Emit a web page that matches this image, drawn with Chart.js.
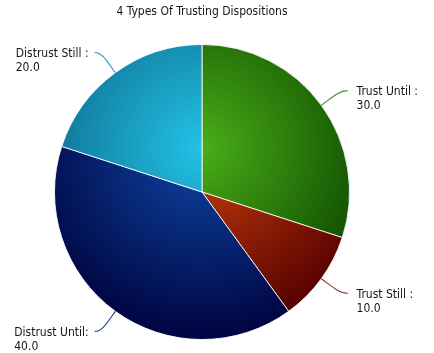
<!DOCTYPE html>
<html>
<head>
<meta charset="utf-8">
<script src="https://cdn.jsdelivr.net/npm/chart.js@4.4.1/dist/chart.umd.min.js"></script>
<style>
  html, body { margin: 0; padding: 0; background: #fff; }
  canvas { display: block; }
</style>
</head>
<body>
<canvas id="pie" width="434" height="353"></canvas>
<script>
const categories = ['Trust Until', 'Trust Still', 'Distrust Until', 'Distrust Still'];
const values = [30, 10, 40, 20];
const labelText = ['Trust Until :', 'Trust Still :', 'Distrust Until:', 'Distrust Still :'];
const lightColors = ['#4aae18', '#c8400c', '#0e46a4', '#22c2e6'];
const darkColors = ['#0c4800', '#560000', '#000644', '#0c6688'];
const lineColors = ['#4a8a2a', '#8a3a2a', '#1e3c7c', '#2a92b4'];

// condensed face if it is there, plain DejaVu a size smaller otherwise
const probe = document.createElement('canvas').getContext('2d');
probe.font = '12px "DejaVu Sans Condensed", monospace';
const wCond = probe.measureText('Trust Until :').width;
probe.font = '12px monospace';
const wMono = probe.measureText('Trust Until :').width;
const hasCond = Math.abs(wCond - wMono) > 0.5;
const fontFamily = hasCond ? '"DejaVu Sans Condensed"' : '"DejaVu Sans"';
const fontSize = hasCond ? 12 : 11;

function sliceFill(c) {
  const area = c.chart.chartArea;
  const i = c.dataIndex;
  if (!area || i === undefined) return lightColors[i || 0];
  const cx = (area.left + area.right) / 2;
  const cy = (area.top + area.bottom) / 2;
  const r = Math.min(area.right - area.left, area.bottom - area.top) / 2;
  const g = c.chart.ctx.createRadialGradient(cx, cy - 0.3 * r, 0, cx, cy - 0.3 * r, 1.25 * r);
  g.addColorStop(0, lightColors[i]);
  g.addColorStop(1, darkColors[i]);
  return g;
}

// leader lines + two-line labels beside each slice
const sliceLabels = {
  id: 'sliceLabels',
  afterDatasetsDraw(chart) {
    const ctx = chart.ctx;
    const meta = chart.getDatasetMeta(0);
    ctx.save();
    ctx.font = fontSize + 'px ' + fontFamily;
    meta.data.forEach((arc, i) => {
      const p = arc.getProps(['x', 'y', 'startAngle', 'endAngle', 'outerRadius'], true);
      const mid = (p.startAngle + p.endAngle) / 2;
      const cos = Math.cos(mid), sin = Math.sin(mid);
      const side = cos >= 0 ? 1 : -1;
      const sx = p.x + cos * p.outerRadius, sy = p.y + sin * p.outerRadius;
      const ex = sx + cos * 25 + side * 6, ey = sy + sin * 25;
      ctx.beginPath();
      ctx.moveTo(sx, sy);
      ctx.bezierCurveTo(sx + cos * 14, sy + sin * 14, ex - side * 8, ey, ex, ey);
      ctx.strokeStyle = lineColors[i];
      ctx.lineWidth = 1.1;
      ctx.stroke();

      const first = labelText[i];
      const second = values[i].toFixed(1);
      const tx = side > 0 ? ex + 9 : ex - 6 - ctx.measureText(first).width;
      ctx.fillStyle = '#161616';
      ctx.textAlign = 'left';
      ctx.textBaseline = 'middle';
      ctx.fillText(first, tx, ey + 1);
      ctx.fillText(second, tx, ey + 15.5);
    });
    ctx.restore();
  }
};

new Chart(document.getElementById('pie'), {
  type: 'pie',
  data: {
    labels: categories,
    datasets: [{
      data: values,
      backgroundColor: sliceFill,
      borderColor: 'rgba(255,255,255,0.85)',
      borderWidth: 1
    }]
  },
  options: {
    responsive: false,
    animation: false,
    layout: { padding: { top: 0, left: 54, right: 84, bottom: 13 } },
    plugins: {
      legend: { display: false },
      tooltip: { enabled: false },
      title: {
        display: true,
        text: '4 Types Of Trusting Dispositions',
        color: '#161616',
        font: { family: fontFamily, size: 12, weight: 'normal' },
        padding: { top: 5, bottom: 24.6 }
      }
    }
  },
  plugins: [sliceLabels]
});
</script>
</body>
</html>
